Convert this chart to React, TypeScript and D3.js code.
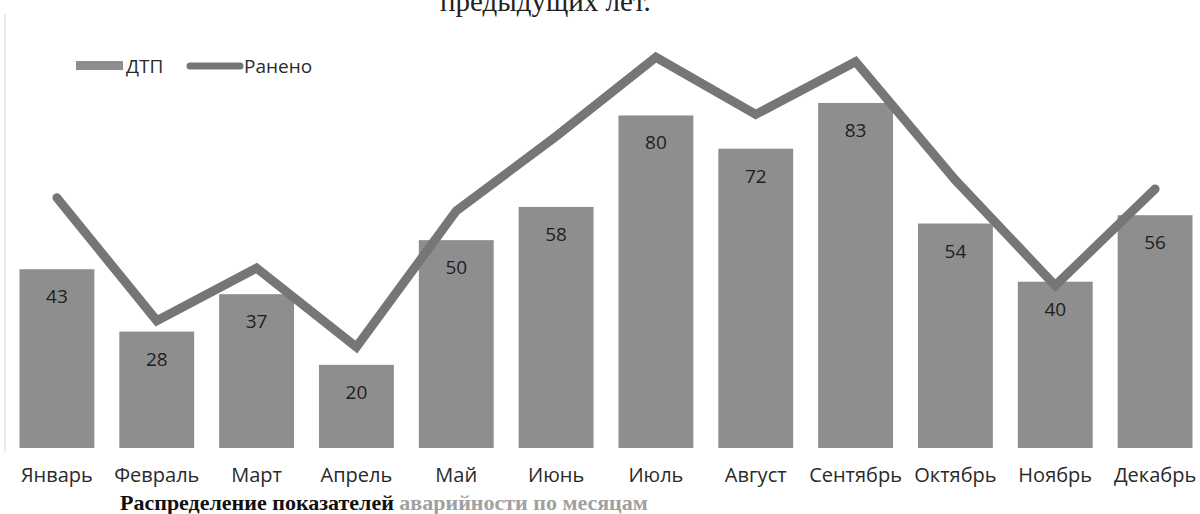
import React, { useEffect, useRef } from 'react';
import * as d3 from 'd3';

const months = ['Январь', 'Февраль', 'Март', 'Апрель', 'Май', 'Июнь', 'Июль', 'Август', 'Сентябрь', 'Октябрь', 'Ноябрь', 'Декабрь'];
const dtp = [43, 28, 37, 20, 50, 58, 80, 72, 83, 54, 40, 56];
const injured = [57, 29, 41, 23, 54, 71, 89, 76, 88, 61, 37, 59];
const seriesNames = ['ДТП', 'Ранено'];

export default function App() {
  const ref = useRef<SVGSVGElement>(null);
  const width = 1200;
  const height = 514;
  const margin = { Top: 60, Right: -5, Bottom: 66, Left: 7 };
  const barColor = '#8e8e8e';
  const lineColor = '#767676';
  const font = '"Open Sans", sans-serif';

  useEffect(() => {
    document.body.style.margin = '0';
    const svg = d3.select(ref.current);
    svg.selectAll('*').remove();
    svg.attr('width', width).attr('height', height).style('background', '#fff');

    // ------------ scales ------------
    const x = d3.scaleBand()
      .domain(months)
      .range([margin.Left, width - margin.Right])
      .paddingInner(0.25)
      .paddingOuter(0.125);

    const yBar = d3.scaleLinear().domain([0, 90]).range([height - margin.Bottom, height - margin.Bottom - 90 * 4.157]);
    const yLine = d3.scaleLinear().domain([0, 100]).range([height - margin.Bottom, height - margin.Bottom - 439]);

    // page text cut at top
    svg.append('text')
      .attr('x', 440).attr('y', 11)
      .attr('font-family', '"Liberation Serif", serif')
      .attr('font-size', 29)
      .attr('fill', '#222')
      .text('предыдущих лет.');

    // faint chart border
    svg.append('line')
      .attr('x1', 5).attr('x2', 5).attr('y1', 14).attr('y2', 452)
      .attr('stroke', '#e6e6e6').attr('stroke-width', 1.5);

    // ------------ bars ------------
    svg.append('g')
      .selectAll('rect')
      .data(dtp)
      .join('rect')
      .attr('x', (d, i) => x(months[i])!)
      .attr('y', d => yBar(d))
      .attr('width', x.bandwidth())
      .attr('height', d => yBar(0) - yBar(d))
      .attr('fill', barColor);

    // ------------ line ------------
    svg.append('path')
      .datum(injured)
      .attr('fill', 'none')
      .attr('stroke', lineColor)
      .attr('stroke-width', 9)
      .attr('stroke-linejoin', 'miter')
      .attr('stroke-linecap', 'round')
      .attr('d', d3.line<number>()
        .x((d, i) => x(months[i])! + x.bandwidth() / 2)
        .y(d => yLine(d)));

    // ------------ value labels ------------
    svg.append('g')
      .selectAll('text')
      .data(dtp)
      .join('text')
      .attr('x', (d, i) => x(months[i])! + x.bandwidth() / 2)
      .attr('y', d => yBar(d) + 34)
      .attr('text-anchor', 'middle')
      .attr('font-family', font)
      .attr('font-size', 19)
      .attr('fill', '#1e1e1e')
      .text(d => d);

    // ------------ x axis ------------
    const xAxis = d3.axisBottom(x).tickSize(0).tickPadding(0);
    const gx = svg.append('g')
      .attr('transform', `translate(0,${height - margin.Bottom})`)
      .call(xAxis);
    gx.select('.domain').remove();
    gx.selectAll('.tick text')
      .attr('y', 34)
      .attr('dy', 0)
      .attr('font-family', font)
      .attr('font-size', 20)
      .attr('fill', '#2a2a2a');

    // ------------ legend ------------
    const legend = svg.append('g').attr('font-family', font).attr('font-size', 19).attr('fill', '#2a2a2a');
    legend.append('rect').attr('x', 76).attr('y', 61).attr('width', 47).attr('height', 9).attr('fill', barColor);
    legend.append('text').attr('x', 126).attr('y', 73).text(seriesNames[0]);
    legend.append('line')
      .attr('x1', 190).attr('x2', 240).attr('y1', 66).attr('y2', 66)
      .attr('stroke', lineColor).attr('stroke-width', 7).attr('stroke-linecap', 'round');
    legend.append('text').attr('x', 244).attr('y', 73).text(seriesNames[1]);

    // caption cut at bottom
    const caption = svg.append('text')
      .attr('x', 120).attr('y', 510)
      .attr('font-family', '"Liberation Serif", serif')
      .attr('font-size', 22)
      .attr('font-weight', 'bold');
    caption.append('tspan').attr('fill', '#111').text('Распределение показателей ');
    caption.append('tspan').attr('fill', '#a0a0a0').text('аварийности по месяцам');
  }, []);

  return <svg ref={ref} style={{ display: 'block' }} />;
}
